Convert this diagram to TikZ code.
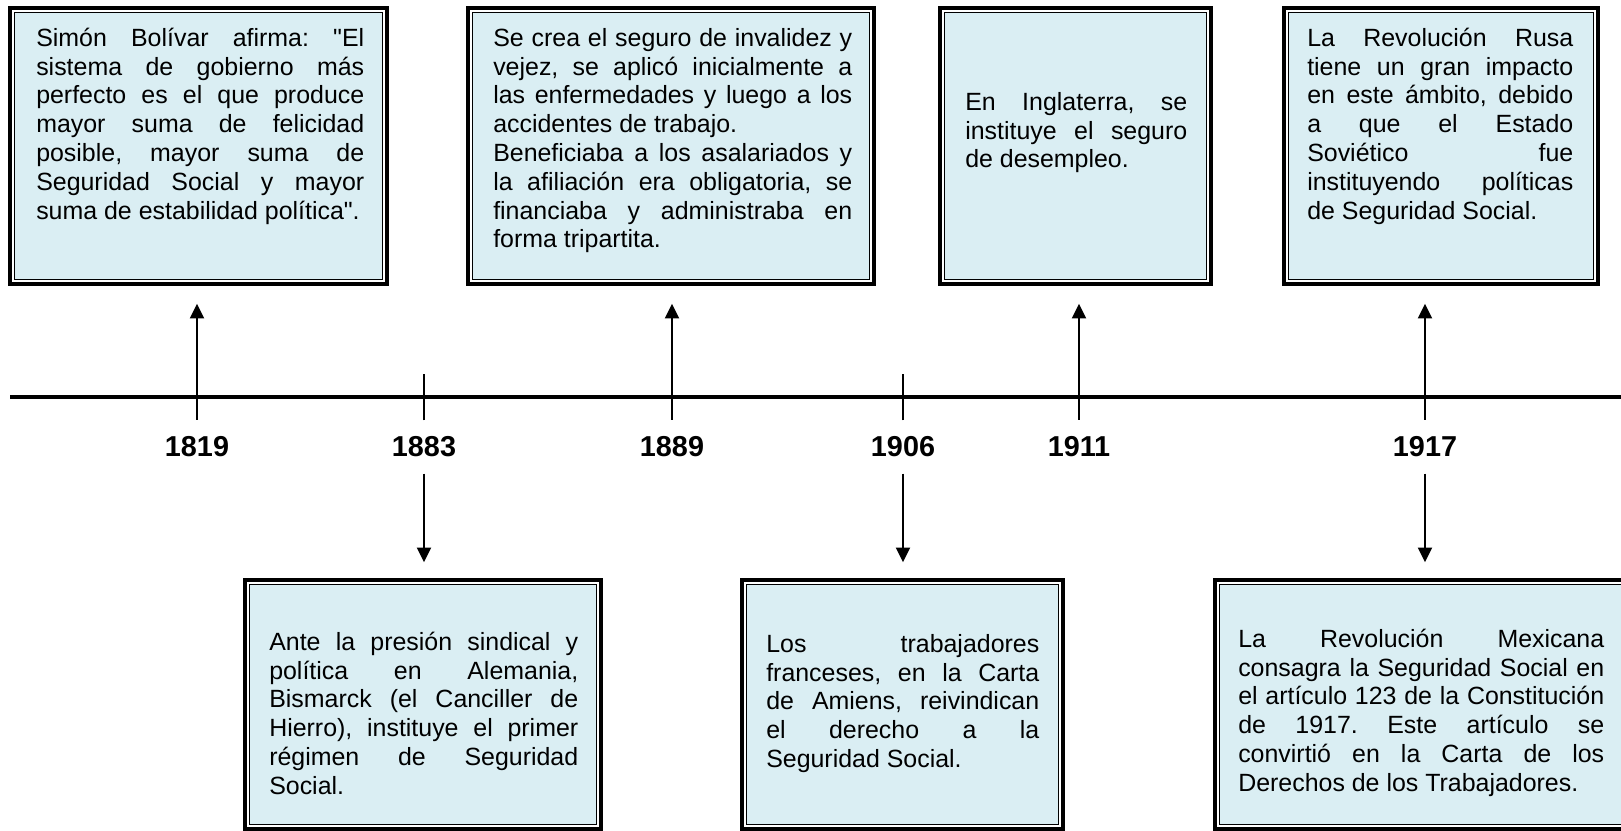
\documentclass[tikz,border=0pt]{standalone}
\usepackage{fontspec}
\setmainfont{Liberation Sans}[Ligatures=TeXOff]
\usetikzlibrary{arrows.meta,fit}
\definecolor{boxblue}{HTML}{DAEEF3}
\tolerance=10000
\hbadness=10000
\setlength\parindent{0pt}
\frenchspacing

\tikzset{
  evbox/.style={draw=black, line width=1.1pt, fill=boxblue, inner sep=0pt},
  evframe/.style={draw=black, line width=2.6pt},
  evtext/.style={anchor=north west, inner sep=0pt, align=justify,
    font=\fontsize{18.7}{21.6}\selectfont},
  yearlabel/.style={anchor=base, inner sep=0pt, font=\fontsize{21.6}{26}\selectfont\bfseries},
  evarrow/.style={line width=1.5pt, -{Triangle[width=10.5pt,length=11pt]}},
  timeline/.style={line width=2.5pt},
  yeartick/.style={line width=2.2pt}
}

\begin{document}
\begin{tikzpicture}[x=0.75pt, y=-0.75pt]

\clip (0,0) rectangle (1621,831);

% boxes above the line
\node[evbox, fit={(14.75,12.75) (382.25,279.25)}] (b1819) {};
\node[evbox, fit={(472.75,12.75) (869.25,279.25)}] (b1889) {};
\node[evbox, fit={(944.75,12.75) (1206.25,279.25)}] (b1911) {};
\node[evbox, fit={(1288.75,12.75) (1593.25,279.25)}] (b1917a) {};

% boxes below the line
\node[evbox, fit={(249.75,584.75) (596.25,824.25)}] (b1883) {};
\node[evbox, fit={(746.75,584.75) (1058.25,824.25)}] (b1906) {};
\node[evbox, fit={(1219.75,584.75) (1634.25,824.25)}] (b1917b) {};

\foreach \b in {b1819,b1889,b1911,b1917a,b1883,b1906,b1917b}
  \draw[evframe] ([shift={(-4,-4)}]\b.north west) rectangle ([shift={(4,4)}]\b.south east);

\node[evtext, text width=246pt] (t1819) at (36,25.8) {\strut Simón Bolívar afirma: "El\linebreak
sistema de gobierno más\linebreak perfecto es el que produce\linebreak
mayor suma de felicidad\linebreak posible, mayor suma de\linebreak
Seguridad Social y mayor\linebreak suma de estabilidad política".};

\node[evtext, text width=269.25pt] (t1889) at (493,25.8) {\strut Se crea el seguro de invalidez y\linebreak
vejez, se aplicó inicialmente a\linebreak las enfermedades y luego a los\linebreak
accidentes de trabajo.\newline Beneficiaba a los asalariados y\linebreak
la afiliación era obligatoria, se\linebreak financiaba y administraba en\linebreak
forma tripartita.};

\node[evtext, text width=166.5pt] (t1911) at (965,89.8) {\strut En Inglaterra, se\linebreak
instituye el seguro\linebreak de desempleo.};

\node[evtext, text width=199.5pt] (t1917a) at (1307,25.8) {\strut La Revolución Rusa\linebreak
tiene un gran impacto\linebreak en este ámbito, debido\linebreak a que el Estado\linebreak
Soviético fue\linebreak instituyendo políticas\linebreak de Seguridad Social.};

\node[evtext, text width=231.75pt] (t1883) at (269,629.8) {\strut Ante la presión sindical y\linebreak
política en Alemania,\linebreak Bismarck (el Canciller de\linebreak
Hierro), instituye el primer\linebreak régimen de Seguridad\linebreak Social.};

\node[evtext, text width=204.75pt] (t1906) at (766,631.8) {\strut Los trabajadores\linebreak
franceses, en la Carta\linebreak de Amiens, reivindican\linebreak el derecho a la\linebreak
Seguridad Social.};

\node[evtext, text width=274.5pt] (t1917b) at (1238,626.8) {\strut La Revolución Mexicana\linebreak
consagra la Seguridad Social en\linebreak el artículo 123 de la Constitución\linebreak
de 1917. Este artículo se\linebreak convirtió en la Carta de los\linebreak
Derechos de los Trabajadores.};

% the time line
\coordinate (tl-w) at (10,397);
\coordinate (tl-e) at (1621,397);
\draw[timeline] (tl-w) -- (tl-e);

\node[yearlabel] (y1819) at (197,456) {1819};
\node[yearlabel] (y1883) at (424,456) {1883};
\node[yearlabel] (y1889) at (672,456) {1889};
\node[yearlabel] (y1906) at (903,456) {1906};
\node[yearlabel] (y1911) at (1079,456) {1911};
\node[yearlabel] (y1917) at (1425,456) {1917};

\draw[yeartick] ([yshift=11.5pt]y1883.north) -- ++(0,-46);
\draw[yeartick] ([yshift=11.5pt]y1906.north) -- ++(0,-46);

% up
\draw[evarrow, shorten <=12pt, shorten >=17.8pt] (y1819.north) -- (y1819.north |- b1819.south);
\draw[evarrow, shorten <=12pt, shorten >=17.8pt] (y1889.north) -- (y1889.north |- b1889.south);
\draw[evarrow, shorten <=12pt, shorten >=17.8pt] (y1911.north) -- (y1911.north |- b1911.south);
\draw[evarrow, shorten <=12pt, shorten >=17.8pt] (y1917.north) -- (y1917.north |- b1917a.south);

% down
\draw[evarrow, shorten <=12.75pt, shorten >=16.3pt] (y1883.south) -- (y1883.south |- b1883.north);
\draw[evarrow, shorten <=12.75pt, shorten >=16.3pt] (y1906.south) -- (y1906.south |- b1906.north);
\draw[evarrow, shorten <=12.75pt, shorten >=16.3pt] (y1917.south) -- (y1917.south |- b1917b.north);

\end{tikzpicture}
\end{document}
